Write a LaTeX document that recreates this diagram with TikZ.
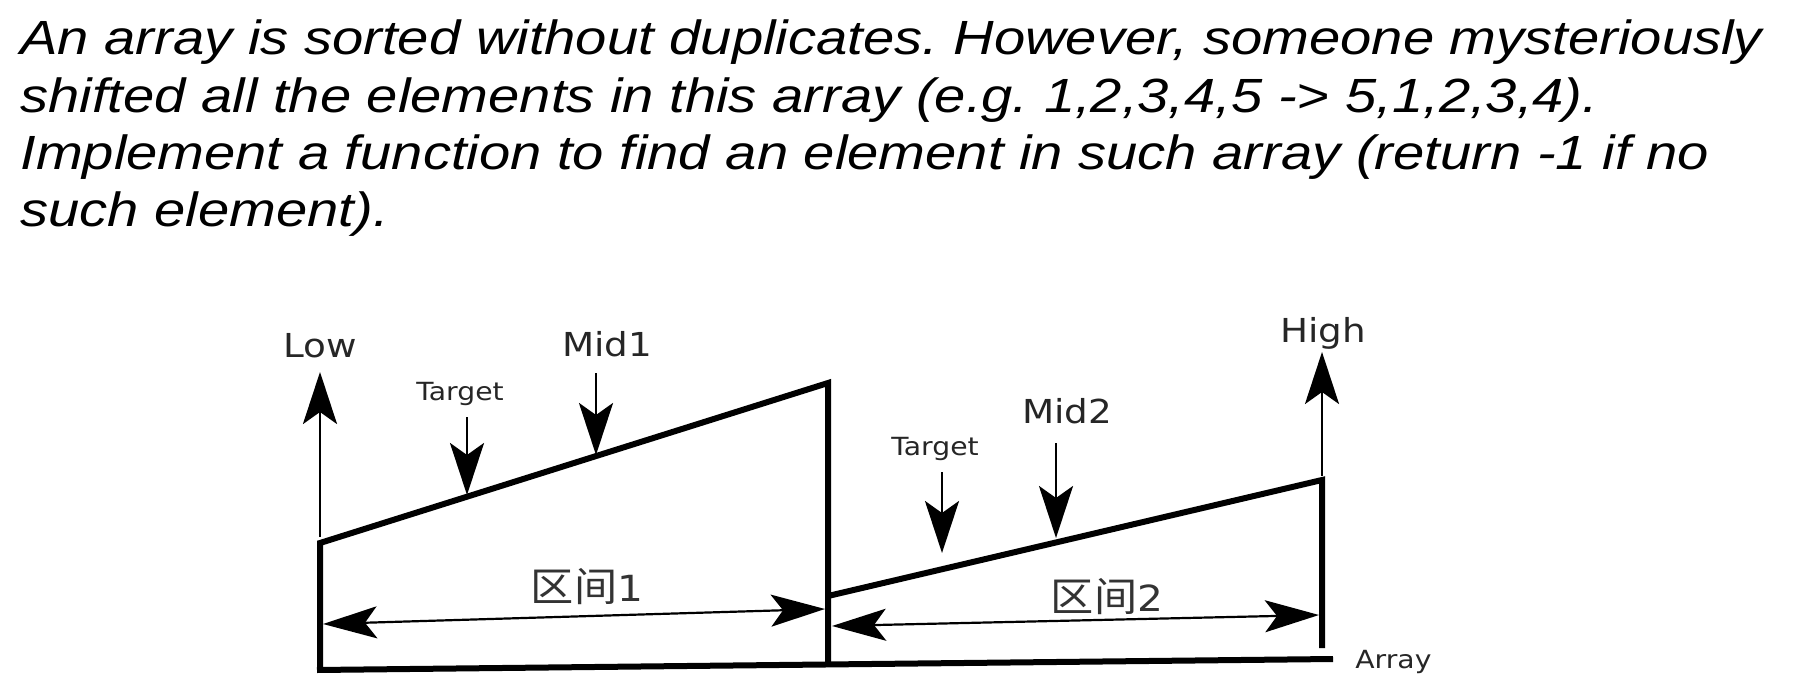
\documentclass[tikz,border=0pt]{standalone}
\usepackage{fontspec}
\setmainfont{Liberation Sans}
\newfontfamily\headfont[FakeStretch=1.17]{Liberation Sans}
\newfontfamily\dejavu[FakeStretch=1.13]{DejaVu Sans}
\newfontfamily\cjk[FakeStretch=1.08]{Noto Sans CJK SC}
\usetikzlibrary{arrows.meta}
\frenchspacing
\begin{document}
\begin{tikzpicture}[x=0.5pt,y=-0.5pt,
  heading/.style={anchor=base west, inner sep=0pt, font=\headfont\fontsize{24pt}{28pt}\selectfont\itshape},
  biglabel/.style={anchor=base, inner sep=0pt, font=\dejavu\fontsize{16.5pt}{20pt}\selectfont, text=black!85},
  smalllabel/.style={anchor=base, inner sep=0pt, font=\dejavu\fontsize{12.5pt}{15pt}\selectfont, text=black!85},
  spanlabel/.style={anchor=center, inner sep=0pt, font=\fontsize{20pt}{24pt}\selectfont, text=black!80},
  thickline/.style={line width=3pt, line join=miter},
  pointer/.style={line width=1.4pt, -{Stealth[length=26pt, width=17pt, inset=6pt]}},
  span/.style={line width=1.1pt, {Stealth[length=27pt, width=16pt, inset=6pt]}-{Stealth[length=27pt, width=16pt, inset=6pt]}}
]
\useasboundingbox (0,0) rectangle (1819,684);

% heading text
\node[heading] (h1) at (20,55) {An array is sorted without duplicates. However, someone mysteriously};
\node[heading] (h2) at (20,112.5) {shifted all the elements in this array (e.g. 1,2,3,4,5 -> 5,1,2,3,4).};
\node[heading] (h3) at (20,170) {Implement a function to find an element in such array (return -1 if no};
\node[heading] (h4) at (20,227) {such element).};

% key points
\coordinate (lowbot) at (320,670);
\coordinate (lowtop) at (320,543);
\coordinate (divtop) at (828,383);
\coordinate (divbot) at (828,665);
\coordinate (seg2start) at (828,596);
\coordinate (hightop) at (1322,480);
\coordinate (highbot) at (1322,648);
\coordinate (baseL) at (317,670);
\coordinate (baseR) at (1333,659);

% shapes
\draw[thickline] (lowbot) -- (lowtop) -- (divtop) -- (divbot);
\draw[thickline] (seg2start) -- (hightop) -- (highbot);
\draw[thickline] (baseL) -- (baseR);

% labels
\node[biglabel] (low) at (320,357) {Low};
\node[biglabel] (mid1) at (607,356) {Mid1};
\node[biglabel] (mid2) at (1067,423) {Mid2};
\node[biglabel] (high) at (1323,342) {High};
\node[smalllabel] (t1) at (460,400) {Target};
\node[smalllabel] (t2) at (935,455) {Target};
\node[smalllabel, anchor=base west] (arr) at (1355,668) {Array};
\node[spanlabel] (s1) at (587,587) {{\cjk 区间}{\dejavu\fontsize{18pt}{22pt}\selectfont 1}};
\node[spanlabel] (s2) at (1107,597) {{\cjk 区间}{\dejavu\fontsize{18pt}{22pt}\selectfont 2}};

% pointer arrows
\coordinate (lowA) at (320,537);
\coordinate (lowB) at (320,372);
\coordinate (highA) at (1322,476);
\coordinate (highB) at (1322,352);
\coordinate (t1A) at (467,417);
\coordinate (t1B) at (467,495);
\coordinate (m1A) at (596,373);
\coordinate (m1B) at (596,455);
\coordinate (t2A) at (942,472);
\coordinate (t2B) at (942,553);
\coordinate (m2A) at (1056,443);
\coordinate (m2B) at (1056,538);
\draw[pointer] (lowA) -- (lowB);
\draw[pointer] (highA) -- (highB);
\draw[pointer] (t1A) -- (t1B);
\draw[pointer] (m1A) -- (m1B);
\draw[pointer] (t2A) -- (t2B);
\draw[pointer] (m2A) -- (m2B);

% span arrows
\coordinate (s1L) at (323,624);
\coordinate (s1R) at (825,609);
\coordinate (s2L) at (832,626);
\coordinate (s2R) at (1319,615);
\draw[span] (s1L) -- (s1R);
\draw[span] (s2L) -- (s2R);
\end{tikzpicture}
\end{document}
